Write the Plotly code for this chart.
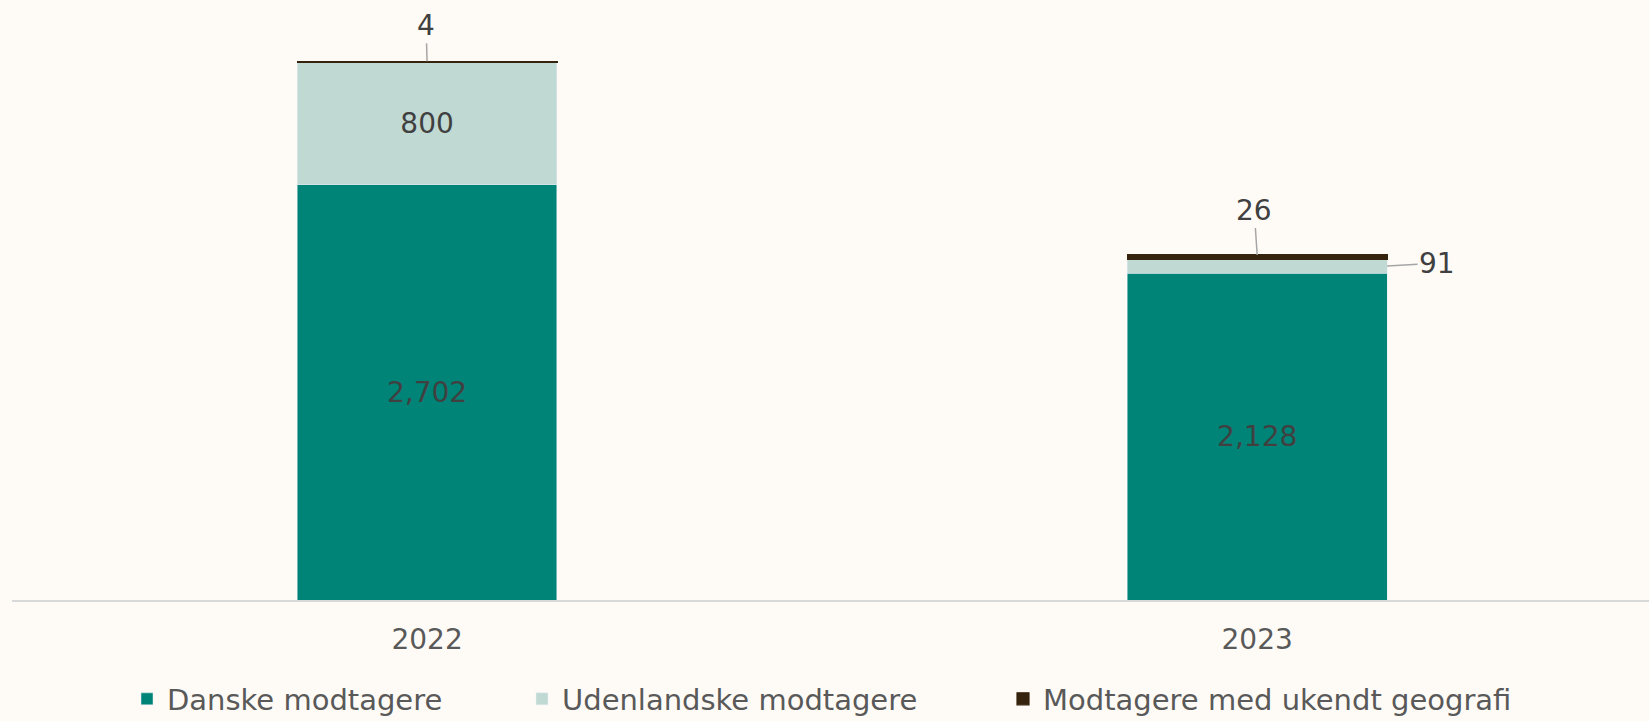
import plotly.graph_objects as go

years = ["2022", "2023"]
danske = [2702, 2128]
udenlandske = [800, 91]
ukendt = [4, 26]
series_names = ["Danske modtagere", "Udenlandske modtagere", "Modtagere med ukendt geografi"]
colors = ["#008478", "#C1D9D3", "#35230E"]

FONT = "DejaVu Sans"
BG = "#FEFBF6"
BAR_W = 0.313
NUM_SIZE = 28

def fmt(v):
    return f"{v:,}"

fig = go.Figure()
fig.add_bar(x=years, y=danske, name=series_names[0], marker_color=colors[0], width=BAR_W,
            text=[fmt(v) for v in danske], textposition="inside", insidetextanchor="middle",
            textfont=dict(color="#404040", size=NUM_SIZE, family=FONT), legend="legend")
fig.add_bar(x=years, y=udenlandske, name=series_names[1], marker_color=colors[1], width=BAR_W,
            text=[fmt(udenlandske[0]), ""], textposition="inside", insidetextanchor="middle",
            textfont=dict(color="#404040", size=NUM_SIZE, family=FONT), legend="legend2")
fig.add_bar(x=years, y=ukendt, name=series_names[2], width=BAR_W,
            marker=dict(color=colors[2], line=dict(color=colors[2], width=1.2)),
            legend="legend3")

totals = [a + b + c for a, b, c in zip(danske, udenlandske, ukendt)]
lab_font = dict(size=NUM_SIZE, color="#404040", family=FONT)
fig.add_annotation(x=0, y=totals[0], text=fmt(ukendt[0]), showarrow=True, arrowhead=0,
                   arrowcolor="#A6A6A6", arrowwidth=1.5, ax=-1, ay=-36, font=lab_font)
fig.add_annotation(x=1, y=totals[1], text=fmt(ukendt[1]), showarrow=True, arrowhead=0,
                   arrowcolor="#A6A6A6", arrowwidth=1.5, ax=-3, ay=-45, font=lab_font)
fig.add_annotation(x=1 + BAR_W / 2, y=danske[1] + udenlandske[1] / 2, text=fmt(udenlandske[1]),
                   showarrow=True, arrowhead=0, arrowcolor="#A6A6A6", arrowwidth=1.5,
                   ax=50, ay=-3, font=lab_font)

leg_common = dict(orientation="h", xref="container", yref="container", yanchor="middle",
                  xanchor="left", y=22 / 721, bgcolor="rgba(0,0,0,0)",
                  font=dict(size=29, color="#595959", family=FONT), itemclick=False)
fig.update_layout(
    barmode="stack",
    width=1649, height=721,
    paper_bgcolor=BG, plot_bgcolor=BG,
    margin=dict(l=12, r=0, t=20, b=121),
    showlegend=True,
    legend=dict(x=127 / 1649, **leg_common),
    legend2=dict(x=522 / 1649, **leg_common),
    legend3=dict(x=1003 / 1649, **leg_common),
    xaxis=dict(type="category", range=[-0.5, 1.472], showline=True, linecolor="#D9D9D9",
               linewidth=2, ticks="outside", ticklen=13, tickcolor="rgba(0,0,0,0)",
               tickfont=dict(size=NUM_SIZE, color="#595959", family=FONT), showgrid=False),
    yaxis=dict(range=[0, 3775], visible=False, showgrid=False),
)
fig.write_html("out.html", config={"displayModeBar": False},
               post_script="document.body.style.margin='0';document.body.style.background='%s';" % BG)
